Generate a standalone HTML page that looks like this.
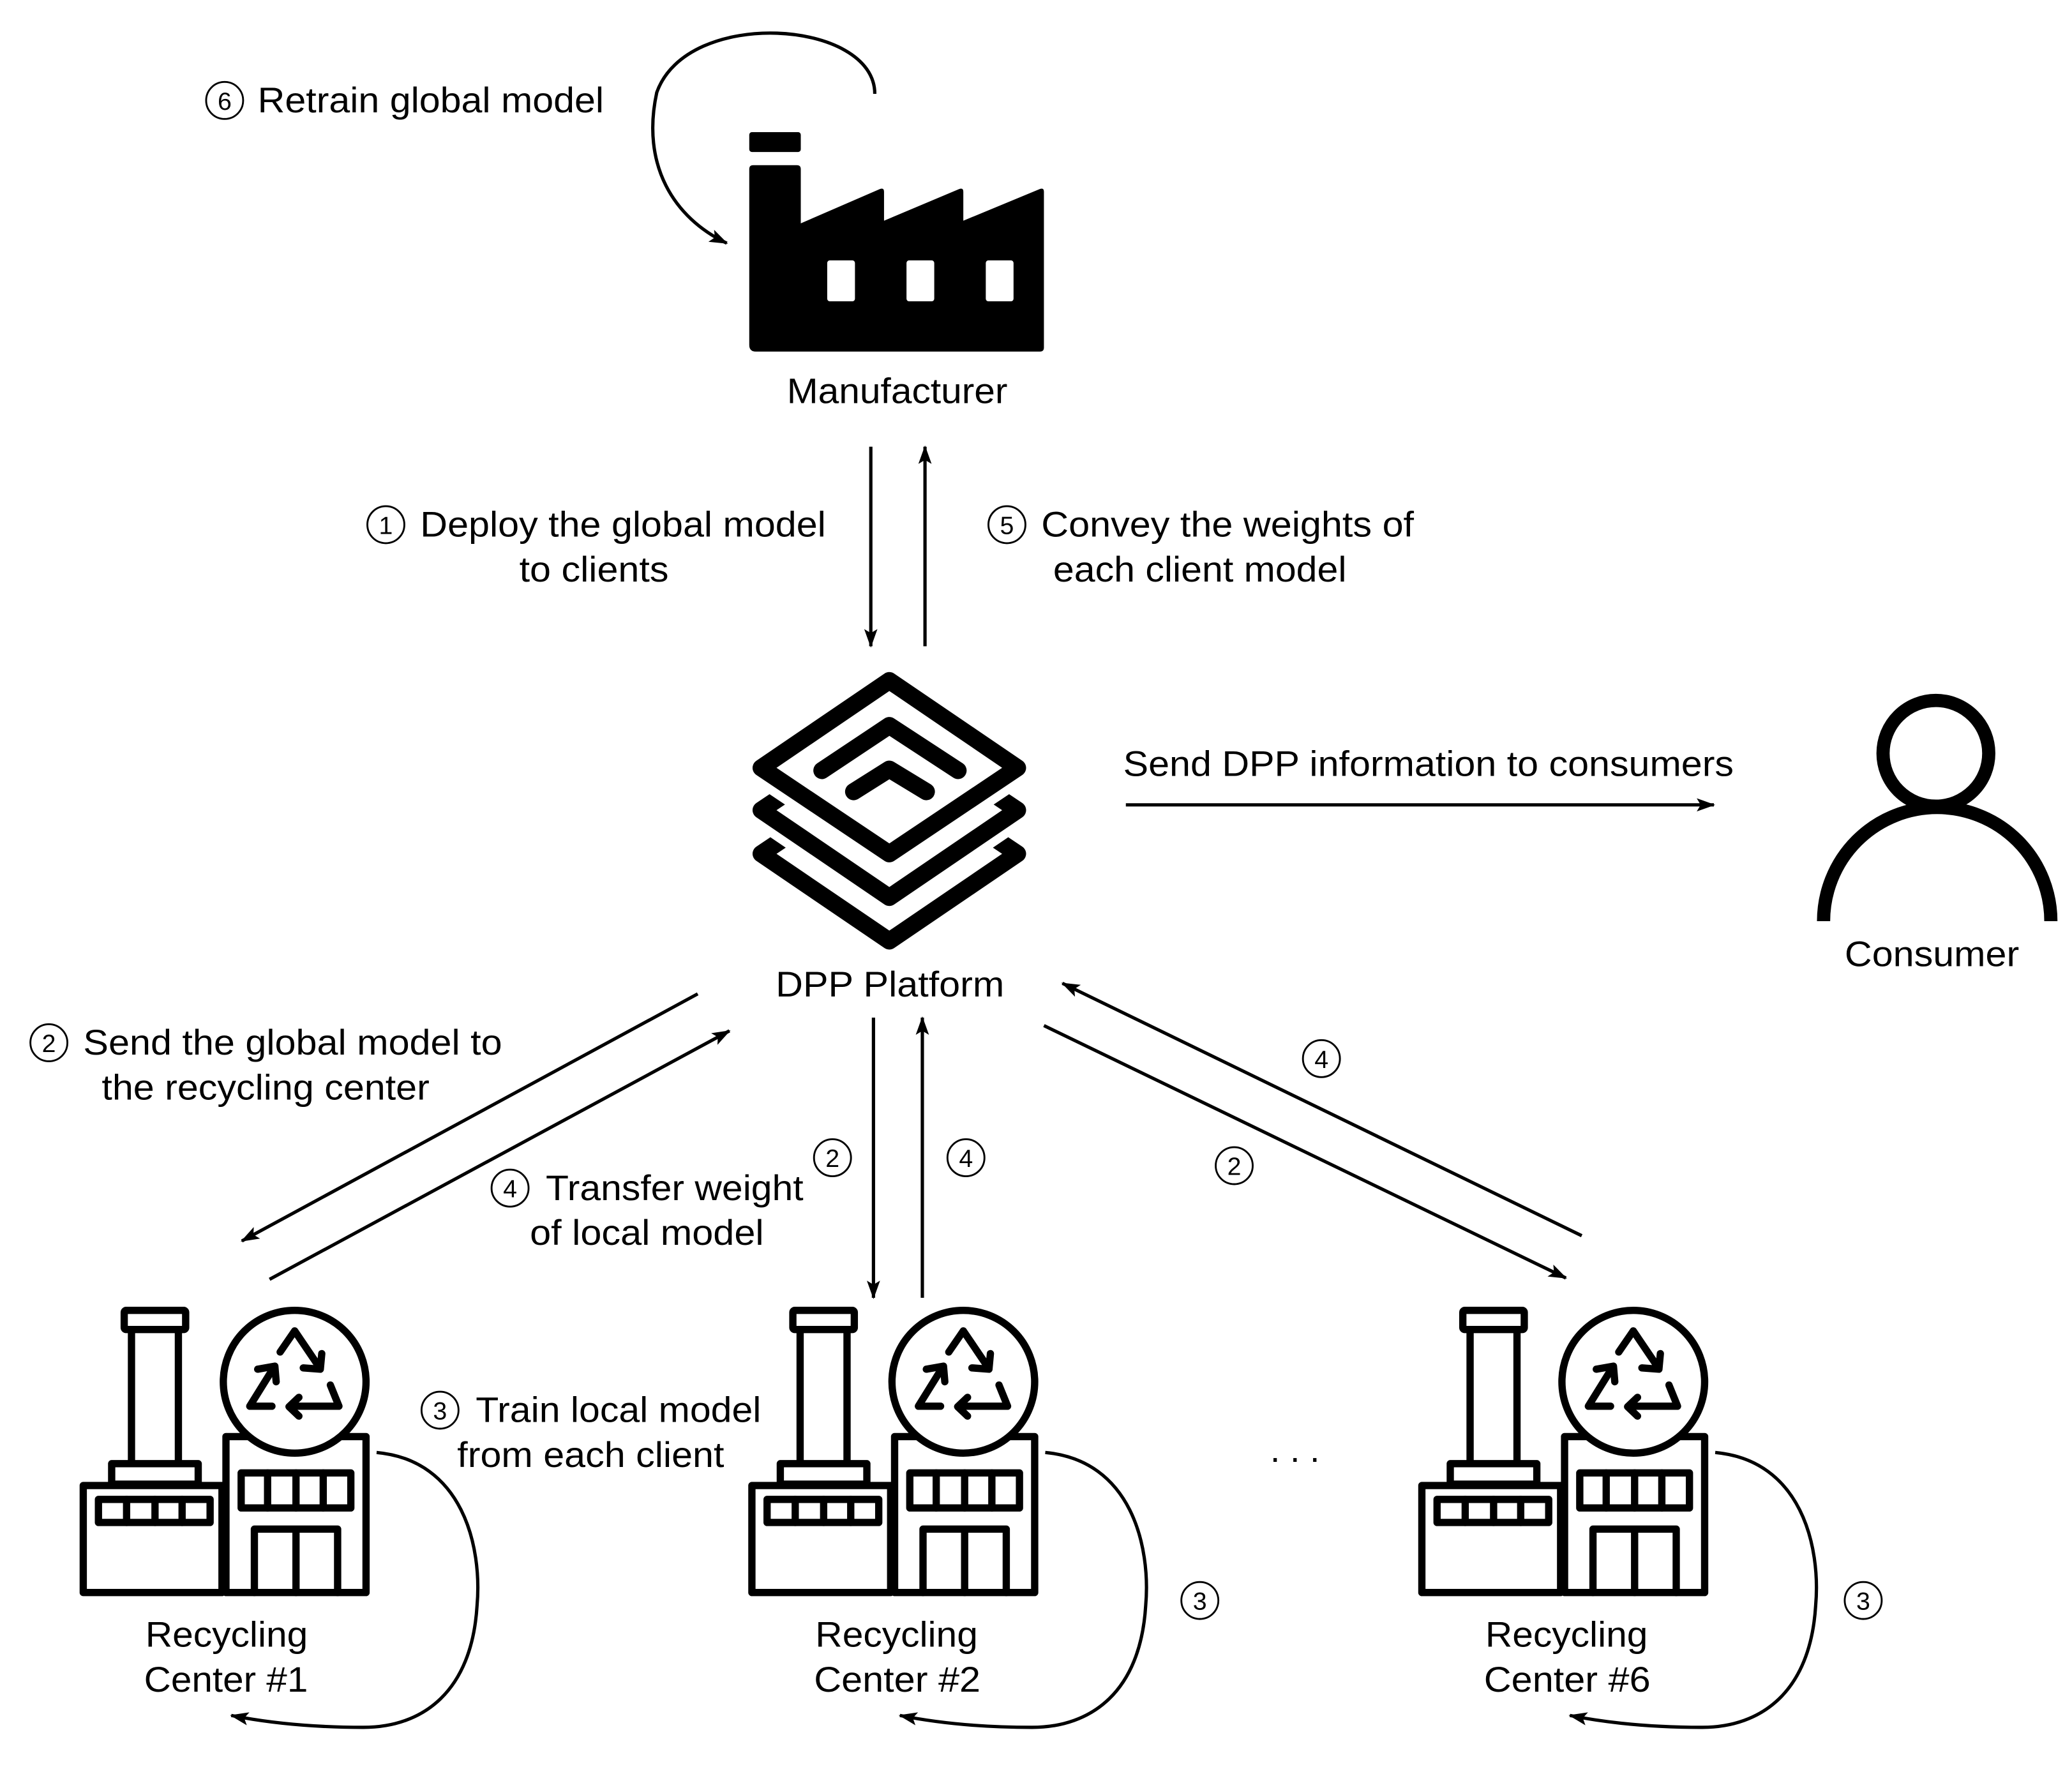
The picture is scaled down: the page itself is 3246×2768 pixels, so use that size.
<!DOCTYPE html>
<html><head><meta charset="utf-8"><style>
html,body{margin:0;padding:0;background:#fff;}
svg{display:block;}
text{font-family:"Liberation Sans",Arial,sans-serif;fill:#000;}
</style></head><body>
<svg width="3246" height="2768" viewBox="0 0 1568 1337" preserveAspectRatio="none" xmlns="http://www.w3.org/2000/svg">
<defs>
<marker id="ah" markerUnits="userSpaceOnUse" markerWidth="16" markerHeight="12" refX="13" refY="6" orient="auto">
<path d="M0,1 L14,6 L0,11 L3,6 Z" fill="#000"/>
</marker>
<g id="circ"><circle r="14" fill="none" stroke="#000" stroke-width="1.4"/></g>
<g id="rc" fill="none" stroke="#000" stroke-width="5.5" stroke-linejoin="round" stroke-linecap="round">
<rect x="94" y="991.5" width="46.5" height="14.5" rx="1.5"/>
<path d="M99.5,1006 V1107.5 M135,1006 V1107.5"/>
<rect x="84.5" y="1107.5" width="65.5" height="15.5"/>
<rect x="63" y="1124" width="105" height="81" fill="#fff"/>
<rect x="74.5" y="1134.5" width="84.5" height="17.5"/>
<path d="M95.8,1134.5 V1152 M117.3,1134.5 V1152 M137.8,1134.5 V1152"/>
<rect x="171" y="1087" width="106" height="118" fill="#fff"/>
<circle cx="223" cy="1045.5" r="54" fill="#fff"/>
<rect x="182.5" y="1114.5" width="83" height="26.5"/>
<path d="M202.5,1114.5 V1141 M224,1114.5 V1141 M244.6,1114.5 V1141"/>
<path d="M192.5,1205 V1157 H255.5 V1205 M224,1157 V1205"/>
<path d="M212,1023 L223,1007 L242,1035 M229.5,1035 L242.4,1036 L243.5,1024.2"/>
<path d="M250,1048 L256.5,1064 L222,1064 M226.2,1057.3 L218.7,1064.4 L226.2,1071.5"/>
<path d="M205.8,1064 L189,1064 L207,1035 M195,1036 L208,1033.7 L209,1045.5"/>
</g>
<g id="loop">
<path d="M285,1099 C350,1105 365,1170 361,1215 C357,1280 320,1307 275,1307 C240,1307 205,1304 175,1298" fill="none" stroke="#000" stroke-width="2.5" marker-end="url(#ah)"/>
</g>
</defs>

<path d="M662,71 C662,15 520,5 497,70 C485,125 510,165 550,184" fill="none" stroke="#000" stroke-width="2.5" marker-end="url(#ah)"/>
<use href="#circ" x="170" y="76"/><text x="170" y="83" font-size="19" text-anchor="middle">6</text>
<text x="195" y="85" font-size="27" textLength="262" lengthAdjust="spacingAndGlyphs">Retrain global model</text>

<rect x="567" y="100" width="39" height="15" rx="2" fill="#000"/>
<path d="M567,128 Q567,125 570,125 H603 Q606,125 606,128 V169 L666,143 Q669,142 669,145 V167 L726,143 Q729,142 729,145 V167 L787,143 Q790,142 790,145 V263 Q790,266 787,266 H572 Q567,266 567,261 Z" fill="#000"/>
<rect x="626" y="197" width="21" height="31" rx="2" fill="#fff"/>
<rect x="686" y="197" width="21" height="31" rx="2" fill="#fff"/>
<rect x="746" y="197" width="21" height="31" rx="2" fill="#fff"/>
<text x="679" y="305" font-size="27" text-anchor="middle" textLength="167" lengthAdjust="spacingAndGlyphs">Manufacturer</text>

<line x1="659" y1="338" x2="659" y2="489" stroke="#000" stroke-width="2.5" marker-end="url(#ah)"/>
<line x1="700" y1="489" x2="700" y2="338" stroke="#000" stroke-width="2.5" marker-end="url(#ah)"/>
<use href="#circ" x="292" y="397"/><text x="292" y="404" font-size="19" text-anchor="middle">1</text>
<text x="318" y="406" font-size="27" textLength="307" lengthAdjust="spacingAndGlyphs">Deploy the global model</text>
<text x="393" y="440" font-size="27" textLength="113" lengthAdjust="spacingAndGlyphs">to clients</text>
<use href="#circ" x="762" y="397"/><text x="762" y="404" font-size="19" text-anchor="middle">5</text>
<text x="788" y="406" font-size="27" textLength="282" lengthAdjust="spacingAndGlyphs">Convey the weights of</text>
<text x="797" y="440" font-size="27" textLength="222" lengthAdjust="spacingAndGlyphs">each client model</text>

<g fill="#fff" stroke-linejoin="round" stroke-linecap="round">
<path d="M576,646 L673,581 L770,646 L673,712 Z" stroke="#fff" stroke-width="26"/>
<path d="M576,646 L673,581 L770,646 L673,712 Z" stroke="#000" stroke-width="13"/>
<path d="M576,613 L673,548 L770,613 L673,679 Z" stroke="#fff" stroke-width="26"/>
<path d="M576,613 L673,548 L770,613 L673,679 Z" stroke="#000" stroke-width="13"/>
<path d="M576,581 L673,515 L770,581 L673,646 Z" stroke="#fff" stroke-width="26"/>
<path d="M576,581 L673,515 L770,581 L673,646 Z" stroke="#000" stroke-width="13"/>
<path d="M622,583 L673,549 L725,583" fill="none" stroke="#000" stroke-width="13"/>
<path d="M646,599 L673,582 L701,599" fill="none" stroke="#000" stroke-width="13"/>
</g>
<text x="587" y="754" font-size="27" textLength="173" lengthAdjust="spacingAndGlyphs">DPP Platform</text>

<circle cx="1465" cy="570" r="40" fill="none" stroke="#000" stroke-width="10"/>
<path d="M1380,697 A86,86 0 0 1 1552,697" fill="none" stroke="#000" stroke-width="10"/>
<text x="1396" y="731" font-size="27" textLength="132" lengthAdjust="spacingAndGlyphs">Consumer</text>
<text x="850" y="587" font-size="27" textLength="462" lengthAdjust="spacingAndGlyphs">Send DPP information to consumers</text>
<line x1="852" y1="609" x2="1297" y2="609" stroke="#000" stroke-width="2.5" marker-end="url(#ah)"/>

<line x1="528" y1="752" x2="183" y2="939" stroke="#000" stroke-width="2.5" marker-end="url(#ah)"/>
<line x1="204" y1="968" x2="552" y2="780" stroke="#000" stroke-width="2.5" marker-end="url(#ah)"/>
<line x1="661" y1="770" x2="661" y2="982" stroke="#000" stroke-width="2.5" marker-end="url(#ah)"/>
<line x1="698" y1="982" x2="698" y2="770" stroke="#000" stroke-width="2.5" marker-end="url(#ah)"/>
<line x1="790" y1="776" x2="1185" y2="967" stroke="#000" stroke-width="2.5" marker-end="url(#ah)"/>
<line x1="1197" y1="935" x2="804" y2="744" stroke="#000" stroke-width="2.5" marker-end="url(#ah)"/>

<use href="#circ" x="37" y="789"/><text x="37" y="796" font-size="19" text-anchor="middle">2</text>
<text x="63" y="798" font-size="27" textLength="317" lengthAdjust="spacingAndGlyphs">Send the global model to</text>
<text x="77" y="832" font-size="27" textLength="248" lengthAdjust="spacingAndGlyphs">the recycling center</text>
<use href="#circ" x="386" y="899"/><text x="386" y="906" font-size="19" text-anchor="middle">4</text>
<text x="413" y="908" font-size="27" textLength="195" lengthAdjust="spacingAndGlyphs">Transfer weight</text>
<text x="401" y="942" font-size="27" textLength="177" lengthAdjust="spacingAndGlyphs">of local model</text>
<use href="#circ" x="630" y="876"/><text x="630" y="883" font-size="19" text-anchor="middle">2</text>
<use href="#circ" x="731" y="876"/><text x="731" y="883" font-size="19" text-anchor="middle">4</text>
<use href="#circ" x="1000" y="801"/><text x="1000" y="808" font-size="19" text-anchor="middle">4</text>
<use href="#circ" x="934" y="882"/><text x="934" y="889" font-size="19" text-anchor="middle">2</text>
<use href="#circ" x="333" y="1067"/><text x="333" y="1074" font-size="19" text-anchor="middle">3</text>
<text x="360" y="1076" font-size="27" textLength="216" lengthAdjust="spacingAndGlyphs">Train local model</text>
<text x="346" y="1110" font-size="27" textLength="202" lengthAdjust="spacingAndGlyphs">from each client</text>
<text x="980" y="1106" font-size="27" text-anchor="middle">. . .</text>

<use href="#rc"/><use href="#loop"/>
<text x="110" y="1246" font-size="27" textLength="123" lengthAdjust="spacingAndGlyphs">Recycling</text>
<text x="109" y="1280" font-size="27" textLength="124" lengthAdjust="spacingAndGlyphs">Center #1</text>
<g transform="translate(506,0)"><use href="#rc"/><use href="#loop"/>
<text x="111" y="1246" font-size="27" textLength="123" lengthAdjust="spacingAndGlyphs">Recycling</text>
<text x="110" y="1280" font-size="27" textLength="126" lengthAdjust="spacingAndGlyphs">Center #2</text></g>
<g transform="translate(1013,0)"><use href="#rc"/><use href="#loop"/>
<text x="111" y="1246" font-size="27" textLength="123" lengthAdjust="spacingAndGlyphs">Recycling</text>
<text x="110" y="1280" font-size="27" textLength="126" lengthAdjust="spacingAndGlyphs">Center #6</text></g>
<use href="#circ" x="908" y="1211"/><text x="908" y="1218" font-size="19" text-anchor="middle">3</text>
<use href="#circ" x="1410" y="1211"/><text x="1410" y="1218" font-size="19" text-anchor="middle">3</text>
</svg>
</body></html>
